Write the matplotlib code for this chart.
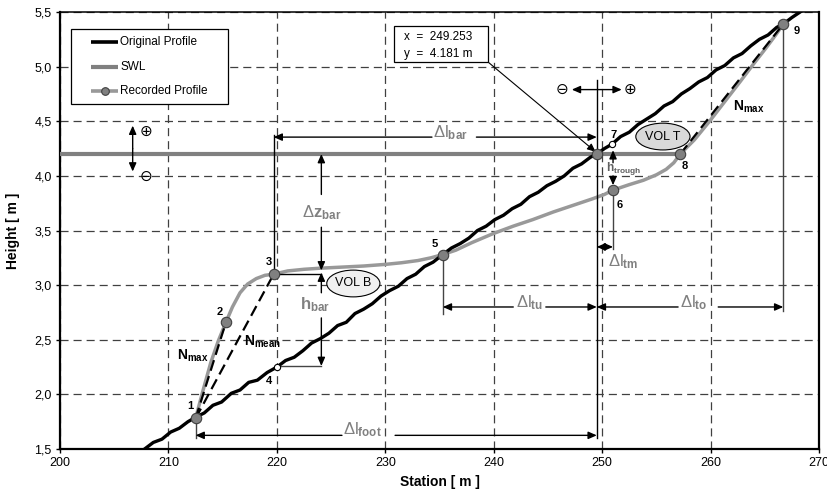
import matplotlib
matplotlib.use("Agg")
import matplotlib.pyplot as plt
from matplotlib.patches import Ellipse, Rectangle

plt.rcParams['font.family'] = ['Liberation Sans', 'DejaVu Sans']
plt.rcParams['mathtext.fontset'] = 'custom'
plt.rcParams['mathtext.rm'] = 'Liberation Sans'
plt.rcParams['mathtext.bf'] = 'Liberation Sans:bold'
plt.rcParams['mathtext.it'] = 'Liberation Sans:italic'
plt.rcParams['lines.scale_dashes'] = False

# ---- data ----
orig_x = [207.8, 208.6, 209.4, 210.2, 211.0, 211.8, 212.5, 213.3, 214.1, 214.9, 215.8,
          216.6, 217.4, 218.2, 219.1, 220.0, 220.8, 221.6, 222.4, 223.2, 224.0, 224.8,
          225.6, 226.4, 227.2, 228.0, 228.8, 229.6, 230.4, 231.2, 232.0, 232.8, 233.6,
          234.4, 235.3, 236.1, 236.9, 237.7, 238.5, 239.3, 240.1, 240.9, 241.7, 242.5,
          243.3, 244.1, 244.9, 245.7, 246.5, 247.3, 248.1, 248.9, 249.5, 250.2, 250.9,
          251.7, 252.5, 253.3, 254.1, 254.9, 255.7, 256.5, 257.3, 258.1, 258.9, 259.7,
          260.5, 261.3, 262.1, 262.9, 263.7, 264.5, 265.3, 266.1, 266.7, 267.5, 268.4]
orig_y = [1.50, 1.56, 1.59, 1.655, 1.69, 1.75, 1.79, 1.83, 1.90, 1.93, 2.01,
          2.04, 2.11, 2.13, 2.20, 2.25, 2.31, 2.34, 2.40, 2.47, 2.51, 2.56,
          2.63, 2.66, 2.74, 2.78, 2.83, 2.90, 2.95, 2.99, 3.06, 3.10, 3.17,
          3.21, 3.28, 3.34, 3.38, 3.43, 3.50, 3.54, 3.60, 3.64, 3.70, 3.74,
          3.81, 3.85, 3.91, 3.95, 4.00, 4.07, 4.11, 4.17, 4.20, 4.25, 4.29,
          4.36, 4.40, 4.47, 4.52, 4.57, 4.64, 4.68, 4.75, 4.80, 4.86, 4.90,
          4.97, 5.01, 5.08, 5.12, 5.19, 5.25, 5.29, 5.36, 5.39, 5.45, 5.51]

rec_x = [212.5, 213.2, 213.9, 214.6, 215.3, 215.9, 216.6, 217.3, 218.1, 218.9, 219.7,
         221.0, 222.5, 224.0, 226.0, 228.0, 230.0, 231.5, 233.0, 234.2, 235.3, 236.5,
         238.0, 239.9, 241.8, 243.6, 245.5, 247.3, 249.1, 250.2, 251.0, 252.5, 253.8,
         255.0, 255.9, 256.6, 257.2, 258.5, 259.9, 261.3, 262.7, 264.0, 265.1, 266.0, 266.7]
rec_y = [1.78, 2.04, 2.29, 2.49, 2.66, 2.80, 2.93, 3.01, 3.06, 3.09, 3.10,
         3.13, 3.145, 3.155, 3.165, 3.175, 3.19, 3.205, 3.225, 3.25, 3.28, 3.32,
         3.39, 3.47, 3.54, 3.60, 3.67, 3.73, 3.79, 3.83, 3.87, 3.92, 3.96,
         4.01, 4.06, 4.12, 4.20, 4.33, 4.50, 4.68, 4.86, 5.03, 5.17, 5.29, 5.39]

swl_level = 4.2
swl_x = [200, 257.2]

# numbered points
pt_names = ['1', '2', '3', '4', '5', '6', '7', '8', '9']
pt_x = [212.5, 215.3, 219.7, 220.0, 235.3, 251.0, 250.9, 257.2, 266.7]
pt_y = [1.78, 2.66, 3.10, 2.25, 3.28, 3.87, 4.29, 4.20, 5.39]
pt_open = [False, False, False, True, False, False, True, False, False]
lab_x = [212.0, 214.7, 219.3, 219.3, 234.6, 251.6, 251.1, 257.6, 267.9]
lab_y = [1.89, 2.75, 3.21, 2.12, 3.38, 3.73, 4.37, 4.09, 5.33]

cross_x, cross_y = 249.5, 4.2        # shoreline crossing
tip_lines = ['x  =  249.253', 'y  =  4.181 m']

legend_labels = ['Original Profile', 'SWL', 'Recorded Profile']

x_ticks = [200, 210, 220, 230, 240, 250, 260, 270]
y_ticks = [1.5, 2.0, 2.5, 3.0, 3.5, 4.0, 4.5, 5.0, 5.5]
y_ticklabels = ['1,5', '2,0', '2,5', '3,0', '3,5', '4,0', '4,5', '5,0', '5,5']

GRAY = '#808080'
LGRAY = '#999999'
DIMC = '#808080'

fig = plt.figure(figsize=(8.28, 4.99), dpi=100)
ax = fig.add_axes([0.0725, 0.1002, 0.9167, 0.8757])
ax.set_xlim(200, 270)
ax.set_ylim(1.5, 5.5)
ax.set_xticks(x_ticks)
ax.set_yticks(y_ticks)
ax.set_yticklabels(y_ticklabels)
ax.tick_params(direction='out', length=3, width=1, labelsize=9, pad=3)
ax.grid(True, ls=(0, (5.8, 3.6)), color='#404040', lw=0.9)
ax.set_axisbelow(True)
for s in ['left', 'bottom', 'right']:
    ax.spines[s].set_linewidth(1.6)
ax.spines['top'].set_linewidth(1.1)
ax.set_xlabel('Station [ m ]', fontsize=10, fontweight='bold', labelpad=4)
ax.set_ylabel('Height [ m ]', fontsize=10, fontweight='bold', labelpad=10)

# profiles
ax.plot(swl_x, [swl_level, swl_level], color=GRAY, lw=3, zorder=3, solid_capstyle='butt')
ax.plot(rec_x, rec_y, color=LGRAY, lw=2.5, zorder=4)
ax.plot(orig_x, orig_y, color='black', lw=2.4, zorder=5)

# slope lines
nd = (0, (8, 4))
ax.plot([pt_x[0], pt_x[1]], [pt_y[0], pt_y[1]], color='black', lw=1.6, ls=nd, zorder=6)
ax.plot([pt_x[0], pt_x[2]], [pt_y[0], pt_y[2]], color='black', lw=1.6, ls=nd, zorder=6)
ax.plot([pt_x[7], pt_x[8]], [pt_y[7], pt_y[8]], color='black', lw=1.6, ls=nd, zorder=6)


def arrow(x0, y0, x1, y1, style='-|>', lw=1.0, color='black'):
    ax.annotate('', xy=(x1, y1), xytext=(x0, y0),
                arrowprops=dict(arrowstyle=style + ',head_length=0.5,head_width=0.22',
                                lw=lw, color=color, shrinkA=0, shrinkB=0),
                zorder=7)


def hdim(y, xa, xb, ga, gb):
    arrow(ga, y, xa, y)
    arrow(gb, y, xb, y)


def dl(sub):
    return r'$\mathrm{\Delta l}_{\mathbf{%s}}$' % sub


thin = dict(color='#444444', lw=1.0, zorder=6)

# shoreline vertical
ax.plot([cross_x, cross_x], [1.60, 4.88], color='black', lw=1.0, zorder=6)

# dl_bar
ax.plot([pt_x[2], pt_x[2]], [pt_y[2], 4.37], color='black', lw=1.0, zorder=6)
hdim(4.355, pt_x[2], cross_x, 234.3, 238.4)
ax.text(236.0, 4.352, dl('bar'), fontsize=12, color=DIMC, ha='center', va='baseline', zorder=8)

# dz_bar and h_bar
xb = 224.1
ax.plot([pt_x[2], xb], [pt_y[2], pt_y[2]], color='black', lw=1.0, zorder=6)
ax.plot([pt_x[3], xb], [2.26, 2.26], **thin)
arrow(xb, 3.83, xb, swl_level)
arrow(xb, 3.53, xb, 3.135)
ax.text(xb, 3.62, r'$\mathrm{\Delta}\mathbf{z}_{\mathbf{bar}}$', fontsize=12, color=DIMC,
        ha='center', va='baseline', zorder=8)
arrow(xb, 2.93, xb, 3.115)
arrow(xb, 2.70, xb, 2.26)
ax.text(223.5, 2.78, r'$\mathbf{h}_{\mathbf{bar}}$', fontsize=12, color=DIMC,
        ha='center', va='baseline', zorder=8)

# dl_foot
ax.plot([pt_x[0], pt_x[0]], [pt_y[0], 1.60], **thin)
hdim(1.625, pt_x[0], cross_x, 226.0, 230.9)
ax.text(227.9, 1.63, dl('foot'), fontsize=12, color=DIMC, ha='center', va='baseline', zorder=8)

# dl_tu and dl_to
ax.plot([pt_x[4], pt_x[4]], [pt_y[4], 2.74], **thin)
ax.plot([pt_x[8], pt_x[8]], [pt_y[8], 2.76], **thin)
hdim(2.80, pt_x[4], cross_x, 241.8, 244.8)
ax.text(243.3, 2.80, dl('tu'), fontsize=12, color=DIMC, ha='center', va='baseline', zorder=8)
hdim(2.80, cross_x, pt_x[8], 257.0, 260.7)
ax.text(258.4, 2.80, dl('to'), fontsize=12, color=DIMC, ha='center', va='baseline', zorder=8)

# dl_tm
ax.plot([pt_x[5], pt_x[5]], [pt_y[5], 3.33], **thin)
arrow(cross_x, 3.35, pt_x[5], 3.35, style='<|-|>')
ax.text(250.5, 3.17, dl('tm'), fontsize=12, color=DIMC, ha='left', va='baseline', zorder=8)

# h_trough
arrow(251.0, 4.12, 251.0, 4.235)
arrow(251.0, 4.00, 251.0, 3.915)
ax.text(250.35, 4.05, r'$\mathbf{h}_{\mathbf{trough}}$', fontsize=8.5, color='#606060',
        ha='left', va='baseline', zorder=8)

# slope labels
ax.text(212.2, 2.315, r'$\mathbf{N}_{\mathbf{max}}$', fontsize=10, ha='center', va='baseline', zorder=8)
ax.text(218.7, 2.45, r'$\mathbf{N}_{\mathbf{mean}}$', fontsize=10, ha='center', va='baseline', zorder=8)
ax.text(263.5, 4.60, r'$\mathbf{N}_{\mathbf{max}}$', fontsize=10, ha='center', va='baseline', zorder=8)

# volume ellipses
ax.add_patch(Ellipse((227.05, 3.015), 4.9, 0.245, facecolor='#f0f0f0', edgecolor='black', lw=0.8, zorder=8))
ax.text(227.05, 3.015, 'VOL B', fontsize=9, ha='center', va='center', zorder=9)
ax.add_patch(Ellipse((255.6, 4.36), 5.0, 0.245, facecolor='#d9d9d9', edgecolor='black', lw=0.8, zorder=8))
ax.text(255.6, 4.36, 'VOL T', fontsize=9, ha='center', va='center', zorder=9)

# sign conventions
sym = dict(family=['DejaVu Sans'], fontsize=11, ha='center', va='center', zorder=8)
arrow(206.7, 4.25, 206.7, 4.46)
arrow(206.7, 4.25, 206.7, 4.04)
ax.text(207.9, 4.41, '\u2295', **sym)
ax.text(207.9, 4.00, '\u2296', **sym)
arrow(247.2, 4.79, 251.8, 4.79, style='<|-|>')
ax.text(246.3, 4.79, '\u2296', **sym)
ax.text(252.6, 4.79, '\u2295', **sym)

# tooltip
ax.add_patch(Rectangle((230.8, 5.04), 8.7, 0.33, facecolor='white', edgecolor='black', lw=0.9, zorder=8))
ax.text(231.7, 5.27, tip_lines[0], fontsize=8.5, ha='left', va='center', zorder=9)
ax.text(231.7, 5.12, tip_lines[1], fontsize=8.5, ha='left', va='center', zorder=9)
arrow(239.5, 5.04, cross_x - 0.1, cross_y + 0.02, lw=0.8)

# point markers and numbers
for n, x, y, op, lx, ly in zip(pt_names, pt_x, pt_y, pt_open, lab_x, lab_y):
    if op:
        ax.plot(x, y, 'o', ms=4.5, mfc='white', mec='black', mew=0.8, zorder=10)
    else:
        ax.plot(x, y, 'o', ms=7.5, mfc=GRAY, mec='#404040', mew=0.8, zorder=10)
    ax.text(lx, ly, n, fontsize=8, fontweight='bold', ha='center', va='center', zorder=10)
ax.plot(cross_x, cross_y, 'o', ms=7.5, mfc=GRAY, mec='#404040', mew=0.8, zorder=10)

# legend (drawn in axes coordinates)
T = ax.transAxes
ax.add_patch(Rectangle((0.0145, 0.7895), 0.2064, 0.1709, transform=T, facecolor='white',
                       edgecolor='black', lw=0.9, zorder=11))
rows = [0.9307, 0.8749, 0.8199]
styles = [dict(color='black', lw=2.6), dict(color=GRAY, lw=3), dict(color=LGRAY, lw=2.6)]
for lab, ry, st in zip(legend_labels, rows, styles):
    ax.plot([0.0408, 0.0768], [ry, ry], transform=T, zorder=12, solid_capstyle='butt', **st)
    ax.text(0.0791, ry, lab, transform=T, fontsize=8.5, ha='left', va='center', zorder=12)
ax.plot([0.0589], [rows[2]], 'o', transform=T, ms=5.5, mfc=GRAY, mec='#404040', mew=0.8, zorder=13)

fig.savefig('out.png', dpi=100)
